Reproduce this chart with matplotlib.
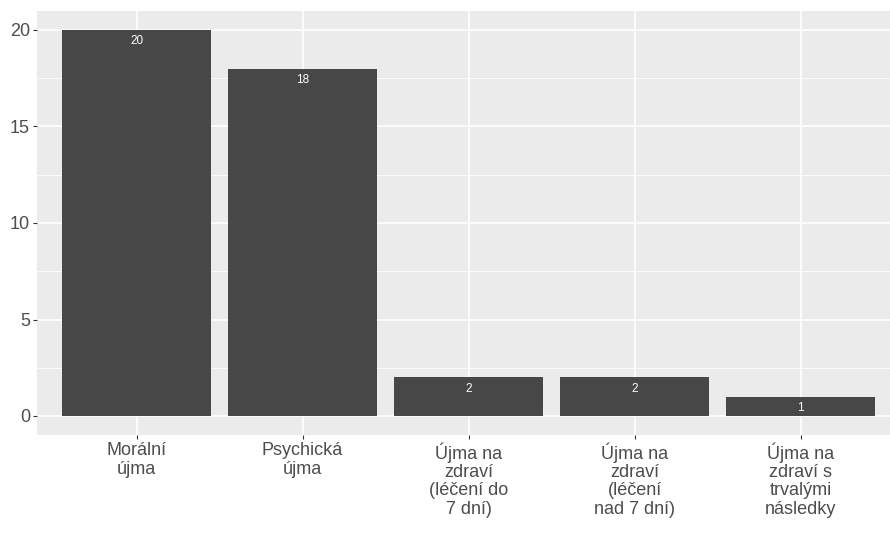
import matplotlib
matplotlib.use("Agg")
import matplotlib.pyplot as plt
import numpy as np

categories = ["Morální\nújma", "Psychická\nújma", "Újma na\nzdraví\n(léčení do\n7 dní)",
              "Újma na\nzdraví\n(léčení\nnad 7 dní)", "Újma na\nzdraví s\ntrvalými\nnásledky"]
values = [20, 18, 2, 2, 1]
yticks = [0, 5, 10, 15, 20]

plt.rcParams['font.family'] = ['Liberation Sans', 'DejaVu Sans']

fig = plt.figure(figsize=(8.9, 5.33), dpi=100)
W, H = 890, 533
left, right, top, bottom = 37, 890, 10.7, 435.3
ax = fig.add_axes([left / W, 1 - bottom / H, (right - left) / W, (bottom - top) / H])
ax.set_facecolor('#EBEBEB')

x = np.arange(1, len(values) + 1)
ax.set_xlim(0.4, 0.4 + (right - left) / 166.0)
ax.set_ylim(-1, 21)

for m in [2.5, 7.5, 12.5, 17.5]:
    ax.axhline(m, color='white', lw=0.6, zorder=0)
for t in yticks:
    ax.axhline(t, color='white', lw=1.2, zorder=0)
for xi in x:
    ax.axvline(xi, color='white', lw=1.2, zorder=0)

ax.bar(x, values, width=0.9, color='#474747', zorder=2)
for xi, v in zip(x, values):
    ax.annotate(str(v), (xi, v), xytext=(0, -8), textcoords='offset points',
                ha='center', va='center', color='white', fontsize=8.5, zorder=3)

ax.set_xticks(x)
ax.set_xticklabels(categories, fontsize=13, color='#4D4D4D', linespacing=1.1)
ax.set_yticks(yticks)
ax.set_yticklabels([str(t) for t in yticks], fontsize=13, color='#4D4D4D')
ax.tick_params(axis='both', length=3, width=0.8, color='#333333', pad=2)
for s in ax.spines.values():
    s.set_visible(False)

fig.savefig('out.png', dpi=100)
